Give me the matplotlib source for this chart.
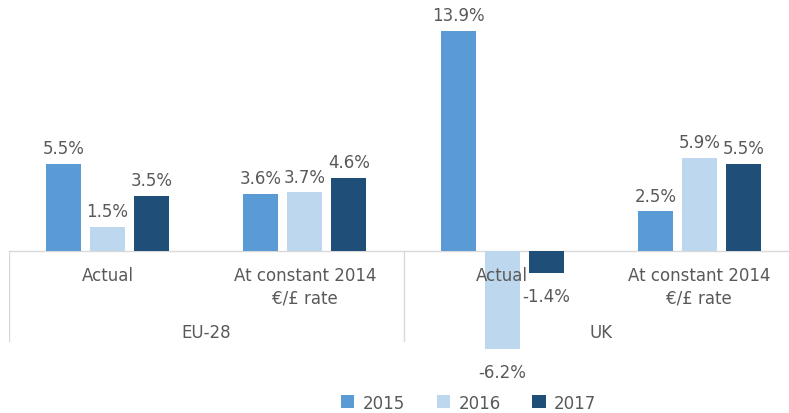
import numpy as np
import matplotlib.pyplot as plt
from matplotlib.patches import Patch

# Growth by region and measure
categories = ["Actual", "At constant 2014\n€/£ rate", "Actual", "At constant 2014\n€/£ rate"]
groups = ["EU-28", "UK"]
years = ["2015", "2016", "2017"]
growth_2015 = [5.5, 3.6, 13.9, 2.5]
growth_2016 = [1.5, 3.7, -6.2, 5.9]
growth_2017 = [3.5, 4.6, -1.4, 5.5]

colors = ["#5B9BD5", "#BDD7EE", "#1F4E79"]
text_color = "#595959"
line_color = "#D9D9D9"
fs = 12

plt.rcParams['font.family'] = ['DejaVu Sans']

fig = plt.figure(figsize=(7.89, 4.14), dpi=100)
ax = fig.add_axes([9 / 789, 0, 789 / 789, 1])
ax.set_xlim(-0.5, 3.5)
ax.set_ylim(-10.23, 15.92)
ax.axis("off")

x = np.arange(len(categories))
width = 0.177
step = 0.223
series = [growth_2015, growth_2016, growth_2017]
for i, (vals, col) in enumerate(zip(series, colors)):
    pos = x + (i - 1) * step
    bars = ax.bar(pos, vals, width, color=col, zorder=2)
    for b, v in zip(bars, vals):
        if v >= 0:
            ax.annotate(f"{v:.1f}%", (b.get_x() + b.get_width() / 2, v),
                        xytext=(0, 5), textcoords="offset points",
                        ha="center", va="bottom", fontsize=fs, color=text_color,
                        zorder=4)
        else:
            ax.annotate(f"{v:.1f}%", (b.get_x() + b.get_width() / 2, v),
                        xytext=(0, -10), textcoords="offset points",
                        ha="center", va="top", fontsize=fs, color=text_color,
                        zorder=4)

# axis line and group separators
ax.plot([-0.5, 3.5], [0, 0], color=line_color, lw=1, zorder=1, clip_on=False)
for xs in [-0.5, 1.5]:
    ax.plot([xs, xs], [0, -5.68], color=line_color, lw=1, zorder=1)

# category and group labels
for xi, lab in zip(x, categories):
    ax.text(xi, -0.95, lab, ha="center", va="top", fontsize=fs,
            color=text_color, linespacing=1.3, zorder=4)
for gi, g in enumerate(groups):
    ax.text(gi * 2 + 0.5, -5.12, g, ha="center", va="center", fontsize=fs,
            color=text_color)

handles = [Patch(facecolor=c, edgecolor="none") for c in colors]
fig.legend(handles, years, loc="center", bbox_to_anchor=(0.594, 0.025),
           ncol=3, frameon=False, fontsize=fs, labelcolor=text_color,
           handlelength=0.8, handleheight=0.8, handletextpad=0.5,
           columnspacing=1.9)

fig.savefig("out.png", dpi=100)
